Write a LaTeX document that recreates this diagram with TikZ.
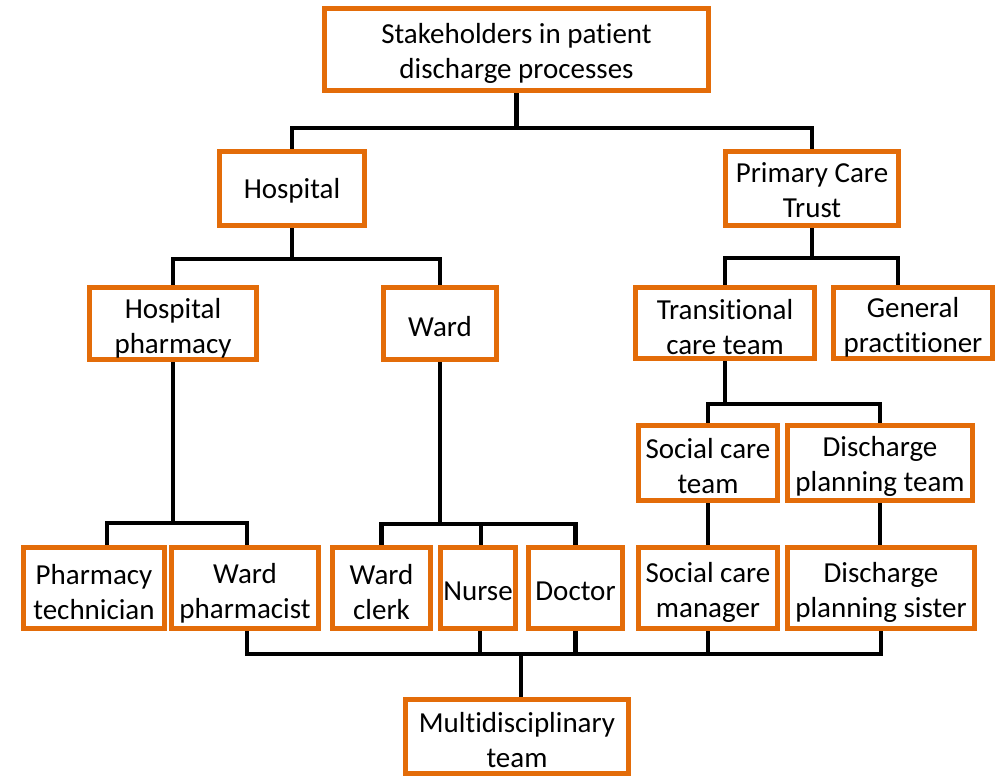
\documentclass[tikz,border=0pt]{standalone}
\usepackage{fontspec}
\setmainfont{Carlito}[Ligatures=NoCommon]
\usetikzlibrary{backgrounds}
\definecolor{boxorange}{HTML}{E36C09}
\tikzset{
  box/.style={draw=boxorange, line width=5pt, fill=white, inner sep=0pt,
    outer sep=0pt},
  txt/.style={inner sep=0pt, align=center, text=black, yshift=-4pt,
    font=\fontsize{29}{35}\selectfont},
  link/.style={draw=black, line width=4.5pt},
}
\begin{document}
\begin{tikzpicture}[x=1pt,y=-1pt]
\useasboundingbox (0,0) rectangle (998,776);

% boxes, each with its caption set a little below the centre
\node[box, minimum width=384pt, minimum height=82pt,
  label={[txt, name=topT]center:{Stakeholders in patient\\discharge processes}}] (top) at (516.5,49.5) {};
\node[box, minimum width=145pt, minimum height=74pt,
  label={[txt, yshift=2pt, name=hospT]center:{Hospital}}] (hosp) at (292,188.5) {};
\node[box, minimum width=173pt, minimum height=74pt,
  label={[txt, yshift=2pt, name=pctT]center:{Primary Care\\Trust}}] (pct) at (812,188.5) {};
\node[box, minimum width=167pt, minimum height=72pt,
  label={[txt, yshift=-1pt, name=hphT]center:{Hospital\\pharmacy}}] (hph) at (173,323.5) {};
\node[box, minimum width=113pt, minimum height=72pt,
  label={[txt, yshift=1pt, name=wardT]center:{Ward}}] (ward) at (440,323.5) {};
\node[box, minimum width=179pt, minimum height=71pt,
  label={[txt, name=transT]center:{Transitional\\care team}}] (trans) at (725,323) {};
\node[box, minimum width=159pt, minimum height=71pt,
  label={[txt, name=gpT]center:{General\\practitioner}}] (gp) at (913,323) {};
\node[box, minimum width=139pt, minimum height=75pt,
  label={[txt, yshift=1pt, name=sctT]center:{Social care\\team}}] (sct) at (708,463) {};
\node[box, minimum width=185pt, minimum height=75pt,
  label={[txt, yshift=1pt, name=dptT]center:{Discharge\\planning team}}] (dpt) at (880,463) {};
\node[box, minimum width=141pt, minimum height=81pt,
  label={[txt, name=ptT]center:{Pharmacy\\technician}}] (pt) at (94,588) {};
\node[box, minimum width=147pt, minimum height=81pt,
  label={[txt, yshift=-1pt, name=wphT]center:{Ward\\pharmacist}}] (wph) at (245,588) {};
\node[box, minimum width=98pt, minimum height=81pt,
  label={[txt, name=wcT]center:{Ward\\clerk}}] (wc) at (381.5,588) {};
\node[box, minimum width=75pt, minimum height=81pt,
  label={[txt, yshift=1pt, name=nurseT]center:{Nurse}}] (nurse) at (478,588) {};
\node[box, minimum width=94pt, minimum height=81pt,
  label={[txt, yshift=1pt, name=doctorT]center:{Doctor}}] (doctor) at (575.5,588) {};
\node[box, minimum width=139pt, minimum height=81pt,
  label={[txt, name=scmT]center:{Social care\\manager}}] (scm) at (708,588) {};
\node[box, minimum width=187pt, minimum height=81pt,
  label={[txt, name=dpsT]center:{Discharge\\planning sister}}] (dps) at (881,588) {};
\node[box, minimum width=223pt, minimum height=74pt,
  label={[txt, name=multiT]center:{Multidisciplinary\\team}}] (multi) at (517,736.5) {};

% connectors, drawn beneath the boxes
\begin{scope}[on background layer]
  \fill[white] (0,0) rectangle (998,776);
  \coordinate (busA) at (0,128);
  \coordinate (busB) at (0,259);
  \coordinate (busC) at (0,258);
  \coordinate (busD) at (0,404);
  \coordinate (busE) at (0,523);
  \coordinate (busF) at (0,524);
  \coordinate (busG) at (0,654);
  \coordinate (gpTop) at ([xshift=-15pt]gp.north);
  \coordinate (ptTop) at ([xshift=13pt]pt.north);
  \coordinate (wphTop) at ([xshift=2pt]wph.north);
  \coordinate (wphBot) at ([xshift=2pt]wph.south);
  \coordinate (nurseTop) at ([xshift=3pt]nurse.north);
  \coordinate (nurseBot) at ([xshift=2pt]nurse.south);
  \coordinate (multiTop) at ([xshift=4pt]multi.north);

  \draw[link] (top.south) -- (top.south |- busA);
  \draw[link] (hosp.north) |- (pct.north |- busA) -- (pct.north);

  \draw[link] (hosp.south) -- (hosp.south |- busB);
  \draw[link] (hph.north) |- (ward.north |- busB) -- (ward.north);

  \draw[link] (pct.south) -- (pct.south |- busC);
  \draw[link] (trans.north) |- (gpTop |- busC) -- (gpTop);

  \draw[link] (trans.south) -- (trans.south |- busD);
  \draw[link] (sct.north) |- (dpt.north |- busD) -- (dpt.north);
  \draw[link] (sct.south) -- (scm.north);
  \draw[link] (dpt.south) -- (dpt.south |- dps.north);

  \draw[link] (hph.south) -- (hph.south |- busE);
  \draw[link] (ptTop) |- (wphTop |- busE) -- (wphTop);

  \draw[link] (ward.south) -- (ward.south |- busF);
  \draw[link] (wc.north) |- (doctor.north |- busF) -- (doctor.north);
  \draw[link] (nurseTop) -- (nurseTop |- busF);

  \draw[link] (wphBot) |- (dps.south |- busG) -- (dps.south);
  \draw[link] (nurseBot) -- (nurseBot |- busG);
  \draw[link] (doctor.south) -- (doctor.south |- busG);
  \draw[link] (scm.south) -- (scm.south |- busG);
  \draw[link] (multiTop) -- (multiTop |- busG);
\end{scope}
\end{tikzpicture}
\end{document}
